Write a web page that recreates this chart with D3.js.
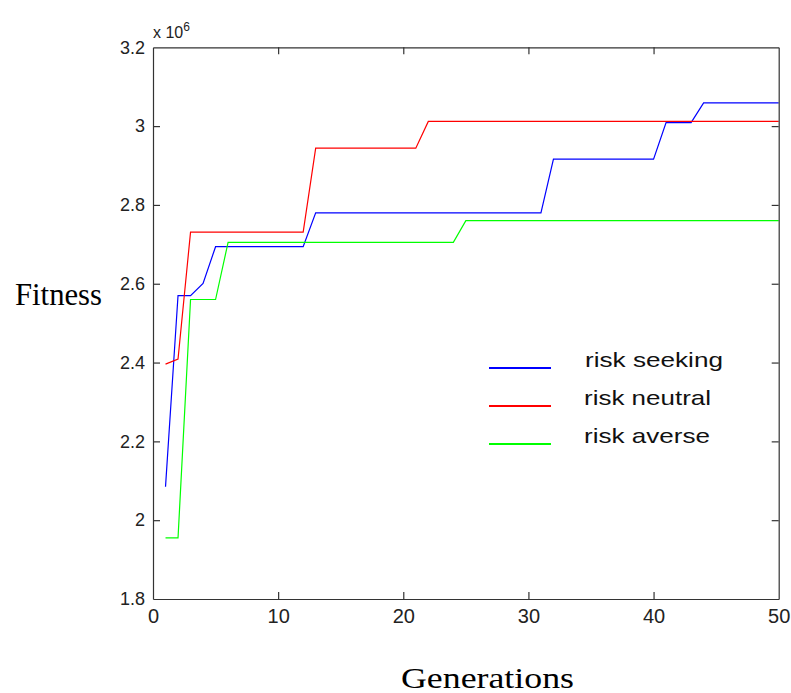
<!DOCTYPE html>
<html>
<head>
<meta charset="utf-8">
<script src="https://cdn.jsdelivr.net/npm/d3@7"></script>
<style>
  html, body { margin: 0; padding: 0; background: #fff; }
  svg { display: block; }
</style>
</head>
<body>
<svg id="chart" width="791" height="693"></svg>
<script>
// Data (values in units of 10^6), generations 1..50
const generations = d3.range(1, 51);
const riskSeeking = [2.085, 2.570, 2.570, 2.601,
  2.694, 2.694, 2.694, 2.694, 2.694, 2.694, 2.694, 2.694,
  2.780, 2.780, 2.780, 2.780, 2.780, 2.780, 2.780, 2.780, 2.780, 2.780,
  2.780, 2.780, 2.780, 2.780, 2.780, 2.780, 2.780, 2.780, 2.780,
  2.916, 2.916, 2.916, 2.916, 2.916, 2.916, 2.916, 2.916, 2.916,
  3.009, 3.009, 3.009,
  3.059, 3.059, 3.059, 3.059, 3.059, 3.059, 3.059];
const riskNeutral = [2.396, 2.409,
  2.731, 2.731, 2.731, 2.731, 2.731, 2.731, 2.731, 2.731, 2.731, 2.731,
  2.944, 2.944, 2.944, 2.944, 2.944, 2.944, 2.944, 2.944, 2.944,
  3.012, 3.012, 3.012, 3.012, 3.012, 3.012, 3.012, 3.012, 3.012, 3.012,
  3.012, 3.012, 3.012, 3.012, 3.012, 3.012, 3.012, 3.012, 3.012, 3.012,
  3.012, 3.012, 3.012, 3.012, 3.012, 3.012, 3.012, 3.012, 3.012];
const riskAverse = [1.955, 1.955,
  2.560, 2.560, 2.560,
  2.705, 2.705, 2.705, 2.705, 2.705, 2.705, 2.705, 2.705, 2.705, 2.705,
  2.705, 2.705, 2.705, 2.705, 2.705, 2.705, 2.705, 2.705, 2.705,
  2.760, 2.760, 2.760, 2.760, 2.760, 2.760, 2.760, 2.760, 2.760, 2.760,
  2.760, 2.760, 2.760, 2.760, 2.760, 2.760, 2.760, 2.760, 2.760, 2.760,
  2.760, 2.760, 2.760, 2.760, 2.760, 2.760];
const seriesNames = ["risk seeking", "risk neutral", "risk averse"];
const seriesColors = ["#0000ff", "#ff0000", "#00ff00"];
const xTicks = [0, 10, 20, 30, 40, 50];
const yTicks = [1.8, 2, 2.2, 2.4, 2.6, 2.8, 3, 3.2];
const xLabel = "Generations";
const yLabel = "Fitness";

const series = [riskSeeking, riskNeutral, riskAverse];

const svg = d3.select("#chart");
const pLeft = 153, pRight = 778.7, pTop = 47.3, pBottom = 599;

const x = d3.scaleLinear().domain([0, 50]).range([pLeft, pRight]);
const y = d3.scaleLinear().domain([1.8, 3.2]).range([pBottom, pTop]);

const axisColor = "#333";
const tickFont = "'Liberation Sans', Arial, sans-serif";

// Lines
const line = d3.line().x((d, i) => x(generations[i])).y(d => y(d));
series.forEach((s, k) => {
  svg.append("path")
    .datum(s)
    .attr("d", line)
    .attr("fill", "none")
    .attr("stroke", seriesColors[k])
    .attr("stroke-width", 1.2)
    .attr("stroke-linejoin", "miter");
});

// Axes (box with inward ticks on all sides)
const tickLen = 7;
const gB = svg.append("g").attr("transform", `translate(0,${pBottom})`)
  .call(d3.axisBottom(x).tickValues(xTicks).tickSizeInner(-tickLen).tickSizeOuter(0).tickPadding(tickLen + 3).tickFormat(d3.format("d")));
const gT = svg.append("g").attr("transform", `translate(0,${pTop})`)
  .call(d3.axisTop(x).tickValues(xTicks).tickSizeInner(-tickLen).tickSizeOuter(0).tickFormat(""));
const gL = svg.append("g").attr("transform", `translate(${pLeft},0)`)
  .call(d3.axisLeft(y).tickValues(yTicks).tickSizeInner(-tickLen).tickSizeOuter(0).tickPadding(tickLen + 1).tickFormat(d => d3.format("~g")(d)));
const gR = svg.append("g").attr("transform", `translate(${pRight},0)`)
  .call(d3.axisRight(y).tickValues(yTicks).tickSizeInner(-tickLen).tickSizeOuter(0).tickFormat(""));

[gB, gT, gL, gR].forEach(g => {
  g.select(".domain").attr("stroke", axisColor).attr("stroke-width", 1.2);
  g.selectAll(".tick line").attr("stroke", axisColor).attr("stroke-width", 1.2);
  g.selectAll(".tick text").attr("fill", "#222").attr("font-family", tickFont).attr("font-size", 18);
});
gB.selectAll(".tick text").attr("font-size", 20);
// hide boundary ticks that coincide with the frame
gT.selectAll(".tick").filter(d => d === 0 || d === 50).select("line").remove();
gB.selectAll(".tick").filter(d => d === 0 || d === 50).select("line").remove();
gL.selectAll(".tick").filter(d => d === 1.8 || d === 3.2).select("line").remove();
gR.selectAll(".tick").filter(d => d === 1.8 || d === 3.2).select("line").remove();

// Exponent label
const expo = svg.append("text")
  .attr("x", pLeft).attr("y", 38)
  .attr("font-family", tickFont).attr("font-size", 16).attr("fill", "#222");
expo.append("tspan").text("x 10");
expo.append("tspan").attr("dy", -7).attr("font-size", 12).text("6");

// Axis titles
svg.append("text")
  .attr("x", 15).attr("y", 305)
  .attr("font-family", "'Liberation Serif', 'Times New Roman', serif")
  .attr("font-size", 31).attr("fill", "#000")
  .attr("textLength", 87).attr("lengthAdjust", "spacingAndGlyphs")
  .text(yLabel);
svg.append("text")
  .attr("x", 401).attr("y", 688)
  .attr("font-family", "'Liberation Serif', 'Times New Roman', serif")
  .attr("font-size", 29).attr("fill", "#000")
  .attr("textLength", 173).attr("lengthAdjust", "spacingAndGlyphs")
  .text(xLabel);

// Legend
const legendY = [368, 406, 444];
const legendTextX = [585, 584, 584];
const legendTextLen = [138, 127, 126];
seriesNames.forEach((name, k) => {
  svg.append("line")
    .attr("x1", 489).attr("x2", 551)
    .attr("y1", legendY[k]).attr("y2", legendY[k])
    .attr("stroke", seriesColors[k]).attr("stroke-width", 2.2);
  svg.append("text")
    .attr("x", legendTextX[k]).attr("y", legendY[k] - 1)
    .attr("font-family", tickFont).attr("font-size", 21).attr("fill", "#111")
    .attr("textLength", legendTextLen[k]).attr("lengthAdjust", "spacingAndGlyphs")
    .text(name);
});
</script>
</body>
</html>
